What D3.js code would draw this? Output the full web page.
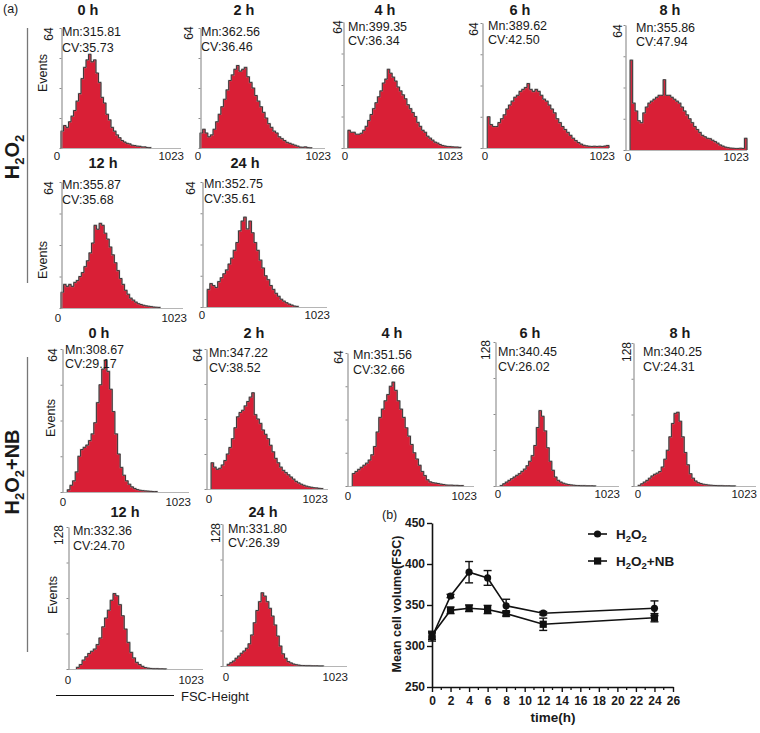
<!DOCTYPE html>
<html><head><meta charset="utf-8">
<script src="https://cdn.jsdelivr.net/npm/d3@7"></script>
<style>
body{margin:0;background:#fff}
svg{display:block}
text{font-family:"Liberation Sans",Arial,Helvetica,sans-serif;fill:#1a1a1a}
</style>
</head><body>
<svg id="c" width="760" height="733"></svg>
<script>
// ---------------- DATA ----------------
const timeLabels = ["0 h","2 h","4 h","6 h","8 h","12 h","24 h"];
const h2o2Mn = ["315.81","362.56","399.35","389.62","355.86","355.87","352.75"];
const h2o2CV = ["35.73","36.46","36.34","42.50","47.94","35.68","35.61"];
const h2o2YMax = [64,64,64,64,64,64,64];
const nbMn = ["308.67","347.22","351.56","340.45","340.25","332.36","331.80"];
const nbCV = ["29.17","38.52","32.66","26.02","24.31","24.70","26.39"];
const nbYMax = [64,64,64,128,128,128,128];
const xRange = [0,1023];

// histogram event counts, 48 bins over 0..1023 (FSC-Height)
const h2o2_0h = [9,12,11,14,17,20,25,29,37,43,47,50,46,47,40,35,27,24,18,15,11,9,7,5.5,4,3.2,2.5,2.2,1.5,1.3,1,0.9,0.6,0.6,0.3,0.2,0,0,0,0,0,0,0,0,0,0,0,0];
const h2o2_2h = [8,10,8,6,7,10,14,18,22,26,31,36,39,42,44,41,42,43,38,35,32,28,25,22,19,16,13,11,9,8,6,5,4,3,2.5,2,1.5,1,0.5,0.4,0.6,0.2,0.1,0,0,0,0,0];
const h2o2_4h = [0,0,9,8,8,7,7,7.5,9,11,14,17,20,23,26,29,33,35,40,38,36,34,31,29,27,25,22,20,18,16,13,11,9,8,6,5,4,3,2.5,1.8,1.3,1,0.8,0.7,0.6,0.5,0.5,0.3];
const h2o2_6h = [0,0,16,12,11,11,13,15,17,20,22,24,26,27,29,30,31,33,30,29,30,29,27,25,24,22,20,18,15,13,11,9.5,8,6.5,5,3.8,2.8,2,1.4,1.1,0.9,0.8,0.9,0.8,0.9,0.8,1,1.3];
const h2o2_8h = [0,0,46,24,20,15,14,19,22,24,25,26,27,28,28,36,28,28,27,26,25,24,22,20,18,16,14,12,10.5,9,7.5,6.8,6,5.8,5,4.3,3.5,2.6,2,1.5,1.2,1,0.9,0.8,0.8,0.9,0.8,6];
const h2o2_12h = [8,12,11,12,11,13,14,16,18,21,24,28,33,42,40,43,42,38,35,31,27,23,19,15,12,9,7,5,4,3,2.2,1.8,1.4,1.1,0.9,0.7,0.5,0.4,0.3,0,0,0,0,0,0,0,0,0];
const h2o2_24h = [0,0,9,12,11,10,13,15,17,19,22,25,29,33,39,44,46,40,44,38,33,29,24,20,16,14,11,9,7,5.5,4,3,2.2,1.5,1,0.5,0.3,0,0,0,0,0,0,0,0,0,0,0];
const nb_0h = [0,0,1,3,5,9,16,19,20,21,23,26,31,40,48,55,59,54,46,36,26,17,11,7.5,5,3.5,2.3,1.6,1.1,0.8,0.6,0.5,0.4,0.3,0.2,0.2,0,0,0,0,0,0,0,0,0,0,0,0];
const nb_2h = [0,0,12,10,9,9.5,11,13,16,19,23,28,33,35,36,38,40,42,44,34,32,30,27,25,23,20,17,14,12,10,8.5,7.5,6.5,5.5,4.5,3.5,2.8,2.2,1.7,1.3,1,0.8,0.6,0.5,0.3,0.2,0,0];
const nb_4h = [0,0,6,7,8,9,10,11,12.5,15,19,26,33,37,41,44,48,50,46,41,37,33,28,24,20,16,13,10,7,5,3,2,1.6,1.4,1.2,0.9,0.7,0.5,0.4,0.4,0.3,0.3,0.2,0.2,0,0,0,0];
const nb_6h = [0,0,0.5,2,3.5,5,6.5,8,9.5,11,13,15,18,22,27,36,52,67,62,49,34,22,14,8,5,3.5,2.5,1.8,1.3,1,0.7,0.5,0.4,0.3,0.3,0.2,0.2,0.2,0.1,0,0,0,0,0,0,0,0,0];
const nb_8h = [0,0,0.6,2,3.5,5,7,9,10.5,11.5,13,17,24,32,44,56,65,66,58,44,30,19,11,7,4.5,3,2.2,1.6,1.2,0.9,0.7,0.5,0.4,0.3,0.3,0.2,0.2,0.2,0.1,0.1,0,0,0,0,0,0,0,0];
const nb_12h = [0,0,0,1.5,4,8,11,14,16,18,22,28,38,46,53,62,68,66,58,48,36,24,15,10,6,4,2.4,1.3,0.8,0.5,0.3,0.3,0.2,0.2,0.1,0,0,0,0,0,0,0,0,0,0,0,0,0];
const nb_24h = [0,0,1.5,3,4.5,7,9,11.5,13.5,16,20,28,39,50,58,66,63,58,52,45,37,27,18,11,7,4,2.8,1.8,1.2,0.8,0.5,0.4,0.3,0.3,0.2,0.2,0.2,0.1,0.1,0,0,0,0,0,0,0,0,0];

// panel (b): mean cell volume
const timePoints = [0,2,4,6,8,12,24];
const h2o2Mean = [311,361,390,383,349,340,346];
const h2o2Err  = [5,2,13,9,8,2,9];
const nbMean   = [313,343.5,346,344.5,339.5,326.5,334.5];
const nbErr    = [5,4,4,5,3,7.5,5];
const xTicksB = [0,2,4,6,8,10,12,14,16,18,20,22,24,26];
const yTicksB = [250,300,350,400,450];

// ---------------- LAYOUT ----------------
const RED = "#d91f36";
const svg = d3.select("#c");

const layoutH2 = [
 {ax:61,x1:181,top:28,base:148,ty:15,tx:88,lx:48,ly:34,mx:62,my:36,cy:52,zx:57,ex:184,xy:160,ev:[42,73]},
 {ax:200,x1:325,top:28,base:148,ty:15,tx:244,lx:188,ly:33,mx:201,my:36,cy:51,zx:198,ex:331,xy:160},
 {ax:343,x1:461,top:22,base:148,ty:15,tx:385,lx:337,ly:27,mx:348,my:31,cy:45,zx:345,ex:463,xy:160},
 {ax:482,x1:609,top:23,base:148,ty:15,tx:520,lx:473,ly:29,mx:488,my:30,cy:44,zx:485,ex:615,xy:160},
 {ax:625,x1:747,top:25,base:150,ty:15,tx:670,lx:617,ly:31,mx:636,my:32,cy:46,zx:628,ex:749,xy:161},
 {ax:61,x1:183,top:182,base:308,ty:168,tx:103,lx:48,ly:188,mx:62,my:189,cy:204,zx:58,ex:187,xy:322,ev:[42,260]},
 {ax:202,x1:327,top:182,base:307,ty:168,tx:245,lx:190,ly:188,mx:204,my:188,cy:203,zx:202,ex:330,xy:319}
];
const layoutNB = [
 {ax:62,x1:189,top:349,base:492,ty:338,tx:99,lx:52,ly:355,mx:65,my:354,cy:368,zx:63,ex:191,xy:506,ev:[50,418]},
 {ax:206,x1:328,top:349,base:489,ty:338,tx:254,lx:197,ly:355,mx:209,my:357,cy:372,zx:209,ex:328,xy:503},
 {ax:347,x1:474,top:353,base:486,ty:338,tx:392,lx:338,ly:357,mx:353,my:359,cy:374,zx:348,ex:477,xy:500},
 {ax:495,x1:619,top:342,base:486,ty:338,tx:530,lx:485,ly:350,mx:498,my:356,cy:371,zx:498,ex:620,xy:498},
 {ax:633,x1:756,top:343,base:486,ty:338,tx:680,lx:626,ly:352,mx:643,my:356,cy:371,zx:638,ex:757,xy:498},
 {ax:68,x1:203,top:527,base:669,ty:517,tx:125,lx:58,ly:535,mx:73,my:535,cy:550,zx:68,ex:204,xy:684,ev:[52,595]},
 {ax:222,x1:347,top:524,base:666,ty:517,tx:263,lx:215,ly:533,mx:228,my:533,cy:547,zx:226,ex:348,xy:681}
];

function drawHist(L, vals, yMax, title, mn, cv) {
  const g = svg.append("g");
  const x = d3.scaleLinear().domain(xRange).range([L.ax, L.x1]);
  const y = d3.scaleLinear().domain([0, yMax]).range([L.base, L.top]);
  const bw = (xRange[1]-xRange[0]) / vals.length;
  const pts = vals.map((v,i)=>({c:i*bw, v:v}));
  pts.push({c:xRange[1], v:vals[vals.length-1]});

  g.append("line").attr("x1",L.ax).attr("x2",L.x1).attr("y1",L.base+0.5).attr("y2",L.base+0.5)
    .attr("stroke","#b5b5b5").attr("stroke-width",1);

  const area = d3.area().curve(d3.curveStepAfter)
    .x(d=>x(d.c)).y0(L.base).y1(d=>y(d.v));
  g.append("path").datum(pts).attr("d",area).attr("fill",RED);

  let first = vals.findIndex(v=>v>0), last = vals.length-1;
  while (last>0 && vals[last]===0) last--;
  const op = [{c:first*bw, v:0}].concat(pts.slice(first, last+1)).concat([{c:(last+1)*bw, v:vals[last]},{c:(last+1)*bw, v:0}]);
  const line = d3.line().curve(d3.curveStepAfter).x(d=>x(d.c)).y(d=>y(d.v));
  g.append("path").datum(op).attr("d",line).attr("fill","none")
    .attr("stroke","#9a9a9a").attr("stroke-width",1.6).attr("stroke-opacity",0.6);
  g.append("path").datum(op).attr("d",line).attr("fill","none")
    .attr("stroke","#222").attr("stroke-width",0.8);

  const yAxis = d3.axisLeft(y).tickValues([0,yMax/4,yMax/2,3*yMax/4,yMax])
    .tickSize(2).tickSizeOuter(0).tickFormat("");
  const ya = g.append("g").attr("transform",`translate(${L.ax+0.5},0)`).call(yAxis);
  ya.select(".domain").attr("stroke","#8a8a8a").attr("stroke-width",1.1);
  ya.selectAll(".tick line").attr("stroke","#8a8a8a");

  g.append("text").attr("transform",`translate(${L.lx+4.5},${L.ly}) rotate(-90)`)
    .attr("text-anchor","middle").attr("font-size",12).text(yMax);

  g.append("text").attr("x",L.zx).attr("y",L.xy).attr("text-anchor","middle")
    .attr("font-size",11.5).text(xRange[0]);
  g.append("text").attr("x",L.ex).attr("y",L.xy).attr("text-anchor","end")
    .attr("font-size",11.5).text(xRange[1]);

  g.append("text").attr("x",L.tx).attr("y",L.ty).attr("text-anchor","middle")
    .attr("font-size",14.5).attr("font-weight","bold").text(title);

  g.append("text").attr("x",L.mx).attr("y",L.my).attr("font-size",12.5).text("Mn:"+mn);
  g.append("text").attr("x",L.mx).attr("y",L.cy).attr("font-size",12.5).text("CV:"+cv);

  if (L.ev) {
    g.append("text").attr("transform",`translate(${L.ev[0]+5},${L.ev[1]}) rotate(-90)`)
      .attr("text-anchor","middle").attr("font-size",12.5).text("Events");
  }
}

const h2o2Hists = [h2o2_0h,h2o2_2h,h2o2_4h,h2o2_6h,h2o2_8h,h2o2_12h,h2o2_24h];
const nbHists = [nb_0h,nb_2h,nb_4h,nb_6h,nb_8h,nb_12h,nb_24h];
h2o2Hists.forEach((h,i)=>drawHist(layoutH2[i], h, h2o2YMax[i], timeLabels[i], h2o2Mn[i], h2o2CV[i]));
nbHists.forEach((h,i)=>drawHist(layoutNB[i], h, nbYMax[i], timeLabels[i], nbMn[i], nbCV[i]));

svg.append("text").attr("x",3).attr("y",13).attr("font-size",12.5).text("(a)");

function groupLabel(cx, cy, y1, y2, extra) {
  svg.append("line").attr("x1",27.5).attr("x2",27.5).attr("y1",y1).attr("y2",y2)
    .attr("stroke","#777").attr("stroke-width",1.3);
  const t = svg.append("text").attr("transform",`translate(${cx},${cy}) rotate(-90)`)
    .attr("text-anchor","middle").attr("font-size",20).attr("font-weight","bold");
  t.append("tspan").text("H");
  t.append("tspan").attr("dy",5).attr("font-size",13).text("2");
  t.append("tspan").attr("dy",-5).text("O");
  t.append("tspan").attr("dy",5).attr("font-size",13).text("2");
  if (extra) t.append("tspan").attr("dy",-5).text(extra);
}
groupLabel(19, 157, 28, 283, null);
groupLabel(19, 472, 357, 652, "+NB");

svg.append("line").attr("x1",56).attr("x2",174).attr("y1",695.5).attr("y2",695.5)
  .attr("stroke","#111").attr("stroke-width",1.2);
svg.append("text").attr("x",181).attr("y",701).attr("font-size",13).text("FSC-Height");

// ---------------- PANEL (b) ----------------
const xb = d3.scaleLinear().domain([0,26]).range([432,673]);
const yb = d3.scaleLinear().domain([250,450]).range([687,523]);
const gb = svg.append("g");

svg.append("text").attr("x",382).attr("y",519).attr("font-size",12.5).text("(b)");

const xAxisB = d3.axisBottom(xb).tickValues(xTicksB).tickSize(5).tickSizeOuter(0).tickPadding(4);
const xa = gb.append("g").attr("transform","translate(0,687)").call(xAxisB);
const minor = d3.range(1,26,2);
gb.append("g").selectAll("line").data(minor).join("line")
  .attr("x1",d=>xb(d)).attr("x2",d=>xb(d)).attr("y1",687).attr("y2",690)
  .attr("stroke","#111").attr("stroke-width",1.3);
const yAxisB = d3.axisLeft(yb).tickValues(yTicksB).tickSize(5).tickSizeOuter(0).tickPadding(2);
const ya = gb.append("g").attr("transform","translate(432,0)").call(yAxisB);
[xa, ya].forEach(a=>{
  a.select(".domain").attr("stroke","#111").attr("stroke-width",1.6);
  a.selectAll(".tick line").attr("stroke","#111").attr("stroke-width",1.4);
  a.selectAll(".tick text").attr("font-size",12).attr("font-weight","bold").attr("fill","#1a1a1a")
    .attr("font-family",'"Liberation Sans",Arial,sans-serif');
});

gb.append("text").attr("x",553).attr("y",722).attr("text-anchor","middle")
  .attr("font-size",13.5).attr("font-weight","bold").text("time(h)");
gb.append("text").attr("transform","translate(401,604) rotate(-90)").attr("text-anchor","middle")
  .attr("font-size",12.5).attr("font-weight","bold").text("Mean cell  volume(FSC)");

function series(means, errs, shape) {
  const pts = timePoints.map((t,i)=>({t:t, m:means[i], e:errs[i]}));
  gb.append("path").datum(pts)
    .attr("d", d3.line().x(d=>xb(d.t)).y(d=>yb(d.m)))
    .attr("fill","none").attr("stroke","#111").attr("stroke-width",1.6);
  const eb = gb.append("g").selectAll("g").data(pts).join("g");
  eb.append("line").attr("x1",d=>xb(d.t)).attr("x2",d=>xb(d.t))
    .attr("y1",d=>yb(d.m-d.e)).attr("y2",d=>yb(d.m+d.e)).attr("stroke","#111").attr("stroke-width",1.4);
  eb.append("line").attr("x1",d=>xb(d.t)-4).attr("x2",d=>xb(d.t)+4)
    .attr("y1",d=>yb(d.m+d.e)).attr("y2",d=>yb(d.m+d.e)).attr("stroke","#111").attr("stroke-width",1.4);
  eb.append("line").attr("x1",d=>xb(d.t)-4).attr("x2",d=>xb(d.t)+4)
    .attr("y1",d=>yb(d.m-d.e)).attr("y2",d=>yb(d.m-d.e)).attr("stroke","#111").attr("stroke-width",1.4);
  if (shape==="circle") {
    gb.append("g").selectAll("circle").data(pts).join("circle")
      .attr("cx",d=>xb(d.t)).attr("cy",d=>yb(d.m)).attr("r",3.6).attr("fill","#111");
  } else {
    gb.append("g").selectAll("rect").data(pts).join("rect")
      .attr("x",d=>xb(d.t)-3.6).attr("y",d=>yb(d.m)-3.6).attr("width",7.2).attr("height",7.2).attr("fill","#111");
  }
}
series(h2o2Mean, h2o2Err, "circle");
series(nbMean, nbErr, "square");

function legendItem(y, shape, extra) {
  gb.append("line").attr("x1",588).attr("x2",607).attr("y1",y).attr("y2",y)
    .attr("stroke","#111").attr("stroke-width",1.6);
  if (shape==="circle") gb.append("circle").attr("cx",597.5).attr("cy",y).attr("r",3.6).attr("fill","#111");
  else gb.append("rect").attr("x",594).attr("y",y-3.6).attr("width",7.2).attr("height",7.2).attr("fill","#111");
  const t = gb.append("text").attr("x",616).attr("y",y+4.5).attr("font-size",13.5).attr("font-weight","bold");
  t.append("tspan").text("H");
  t.append("tspan").attr("dy",3).attr("font-size",9.5).text("2");
  t.append("tspan").attr("dy",-3).text("O");
  t.append("tspan").attr("dy",3).attr("font-size",9.5).text("2");
  if (extra) t.append("tspan").attr("dy",-3).text(extra);
}
legendItem(534, "circle", null);
legendItem(561, "square", "+NB");
</script>
</body></html>
